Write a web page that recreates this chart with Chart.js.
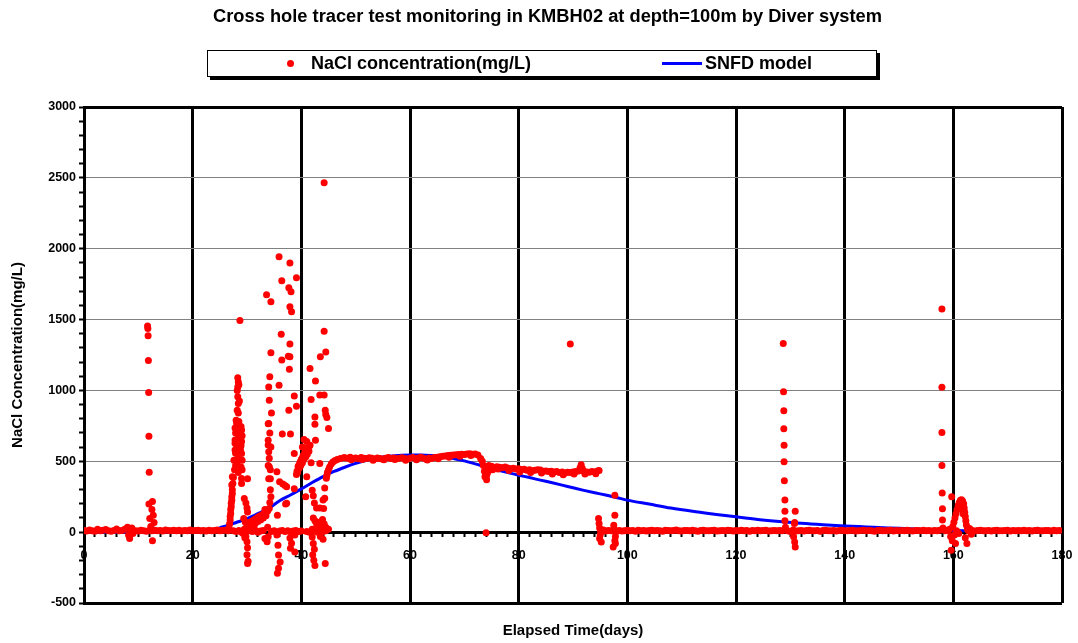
<!DOCTYPE html>
<html>
<head>
<meta charset="utf-8">
<title>KMBH02 tracer test</title>
<script src="https://cdn.jsdelivr.net/npm/chart.js"></script>
<style>
  body { margin: 0; background: #fff; }
  #wrap { position: relative; width: 1078px; height: 643px; }
  #title {
    position: absolute; left: 213px; top: 5px; white-space: nowrap;
    font: bold 18.3px "Liberation Sans", Arial, sans-serif; color: #000; line-height: 22px;
  }
  #legend {
    position: absolute; left: 207px; top: 50px; width: 668px; height: 25px;
    border: 1px solid #000; box-shadow: 3px 3px 0 #000; background: #fff;
    font: bold 18px "Liberation Sans", Arial, sans-serif; color: #000;
  }
  #legend span { position: absolute; }
  .dot { left: 79px; top: 9px; width: 7px; height: 7px; border-radius: 50%; background: #ff0000; }
  .lbl { top: 0; line-height: 25px; white-space: nowrap; }
  .bar { left: 454px; top: 11px; width: 40px; height: 3px; background: #0000ff; }
</style>
</head>
<body>
<div id="wrap">
  <canvas id="tracerChart" width="1078" height="643"></canvas>
  <div id="title">Cross hole tracer test monitoring in KMBH02 at depth=100m by Diver system</div>
  <div id="legend">
    <span class="dot"></span><span class="lbl" style="left:103px">NaCl concentration(mg/L)</span>
    <span class="bar"></span><span class="lbl" style="left:497px">SNFD model</span>
  </div>
</div>
<script>
// measured NaCl, [elapsed day, mg/L]
const naclBase1 = [[0,12],[0.5,8],[1,15],[1.5,10],[2,6],[2.5,20],[3,9],[3.5,14],[4,18],[4.5,10],[5,7],[5.5,12],[6,22],[6.5,9],[7,11],[7.5,20],[8,35],[8.2,-20],[8.4,-45],[8.6,15],[8.8,30],[9,-10],[9.5,10],[10,8],[10.5,13],[11,10],[11.5,6],[12,12],[12.5,9],[13,14],[13.5,10],[14,12],[14.5,8],[15,15],[15.5,11],[16,9],[16.5,13],[17,10],[17.5,14],[18,8],[18.5,12],[19,10],[19.5,15],[20,9],[20.5,12],[21,14],[21.5,10],[22,11],[22.5,8],[23,13],[23.5,10],[24,12],[24.5,15],[25,9],[25.5,12],[26,14],[26.5,10]];
const naclSpike12 = [[11.7,1455],[11.75,1437],[11.8,1385],[11.85,1211],[11.9,985],[11.95,677],[12,423],[11.95,198],[12.6,216],[12.1,97],[12.75,120],[12.9,68],[12.6,-61],[12.3,40],[12.5,160]];
const naclRise27 = [[26.7,30],[26.8,60],[26.9,85],[26.9,110],[27,132],[27,160],[27.1,180],[27.1,203],[27.2,225],[27.2,250],[27.3,273],[27.3,300],[27.2,332],[27.4,344],[27.3,390],[27.5,386],
  [27.5,10],[28,5],[28.5,12],[29,0],[29.5,8],[30,15],
  [27.8,734],[27.9,700],[27.8,650],[27.8,628],[27.8,579],[27.9,557],[27.6,508],[27.9,470],[27.7,440],[28,790],[28.1,767],[28.2,1000],[28.3,1090],[28.4,1060],[28.3,1025],[28.3,955],[28.4,908],[28.2,860],[28.7,1494],[28.5,1040],[28.6,925],[28.4,840],[28.9,745],[29,720],[29.1,680],[29,640],[28.9,610],[28.8,580],[29,555],[29.1,508],[28.9,460],[29.1,440],[28.2,700],[28.4,660],[28.1,610],[28.3,520],[28.6,700],[28.5,780],[28.2,480],[28.4,420],[29,379],[29,344],[30.1,376],
  [29.5,238],[29.8,205],[30,170],[30.1,143],[29.4,97],[29.7,70],[30,50],[30.2,30],[29.5,20],[29.3,-10],[29.8,-33],[30,-68],[30.1,-110],[30,-160],[30.2,-205],[30.1,-221],[29.6,-40],
  [30.2,61],[30.5,68],[30.8,75],[31.1,82],[31.4,90],[31.7,97],[32,105],[32.3,112],[32.6,118],[32.9,125],[33.2,135],[33.5,143],[33.8,150],[30.5,40],[31,50],[31.5,60],[32,75],[32.5,85],[33,100],[33.5,115],
  [30.5,10],[31,5],[31.5,15],[32,0],[32.5,8],[33,12]];
const naclCluster36 = [[33.6,1675],[34.4,1625],[34.4,1265],[34.2,1096],[34,1025],[34.1,931],[34.5,840],[33.9,764],[34,767],[33.9,649],[33.9,615],[34,567],[34.1,522],[34.1,461],[33.9,470],[34.3,440],[34,377],[34.3,377],[34.1,167],[33.3,160],[33.8,35],[33.9,-33],[33.7,-68],[33.3,-45],[34.2,700],[34.4,600],[34.3,300],[34.4,250],[34.2,210],
  [35.9,1943],[36.4,1774],[36.3,1397],[36.4,1214],[35.9,1037],[36.5,692],[36,355],[36.6,340],[37,330],[37.3,320],[37.1,198],[35.6,120],[35.5,426],[35.5,-21],[35.7,-92],[35.8,-162],[36.1,-210],[35.8,-254],[35.6,-290],
  [37.9,1900],[39.1,1795],[37.7,1724],[38.1,1696],[37.9,1590],[38.2,1555],[37.9,1327],[37.6,1242],[37.9,1237],[37.8,1150],[38.7,960],[39.1,889],[37.7,861],[38,692],[38.7,555],[38.7,306],[37.3,203],[38.8,-21],[37.9,-42],[38.2,-78],[38,-113],[38.8,-141],
  [34.5,5],[35,10],[35.5,0],[36,8],[36.5,12],[37,5],[37.5,10],[38,3],[38.5,8],[39,12],[39.5,5],[40,8]];
const naclCluster42 = [[39.1,407],[39.2,430],[39.4,461],[39.5,470],[39.7,485],[39.8,496],[40,510],[40.1,520],[40.3,535],[40.4,543],[40.6,555],[40.7,567],[40.9,575],[41,579],[41.2,595],[41.3,602],[41.5,610],[41.6,614],[39.3,420],[39.6,450],[39.9,470],[40.2,490],[40.5,515],[40.8,530],[41.1,550],[41.4,570],[40.2,600],[40.5,654],[41,640],
  [44.2,2465],[44.2,1418],[44.5,1272],[43.5,1237],[41.6,1155],[42.6,1066],[41.8,936],[43.4,967],[44.2,967],[42.5,813],[42.5,762],[44.4,861],[44.5,830],[44.7,809],[45,732],[42.6,649],[41.8,489],[43.4,485],[41,390],[40.8,250],[42,296],[42.2,256],[42.4,205],[44.3,311],[44.3,240],[44,226],[44.1,167],[42.8,170],[43.4,170],
  [42.2,100],[42.5,80],[42.8,60],[43,50],[43.3,70],[43.6,40],[43.9,90],[44.2,60],[44.5,35],[42,20],[42.5,10],[43,0],[43.5,15],[44,5],[44.5,10],[45,20],[41,5],[41.5,0],
  [42,-35],[42.2,-80],[42.4,-120],[42.1,-160],[42.3,-198],[42.5,-235],[44.4,-221],[43.5,-30],[44,-50]];
const naclPlateau = [[44.6,380],[44.7,400],[44.8,420],[45,440],[45.2,460],[45.5,480],[45.8,495],[46.2,505],[46.6,512],[47.2,520],[47.8,525],
  [48,525],[48.5,522],[49,528],[49.5,520],[50,524],[50.5,518],[51,526],[51.5,521],[52,519],[52.5,525],[53,522],[53.5,517],[54,524],[54.5,520],[55,515],[55.5,522],[56,527],[56.5,519],[57,523],[57.5,518],[58,521],[58.5,525],[59,520],[59.5,517],[60,522],[60.5,526],[61,519],[61.5,523],[62,528],[62.5,521],[63,515],[63.5,524],[64,520],[64.5,526],[65,529],[65.5,532],[66,535],[66.5,538],[67,540],[67.5,542],[68,545],[68.5,547],[69,548],[69.5,550],[70,548],[70.5,551],[71,553],[71.5,550],[72,552],[72.5,545],[73,520],[73.3,500],[73.5,470],[73.7,430],[73.8,390],[73.9,410],
  [49.2,510],[51.2,512],[53.2,508],[55.2,510],[57.2,512],[59.2,508],[61.2,511],[63.2,509],[65.2,518],[67.2,528],[69.2,536],[71.2,540],[74,-5]];
const naclDecline = [[74.1,370],[74.1,400],[74.2,430],[74.2,460],[74.5,470],[75,465],[75.5,455],[76,462],[76.5,458],[77,455],[77.5,460],[78,452],[78.5,448],[79,450],[79.5,445],[80,447],[80.5,440],[81,443],[81.5,436],[82,440],[82.5,434],[83,437],[83.5,440],[84,438],[84.5,430],[85,432],[85.5,428],[86,430],[86.5,425],[87,428],[87.5,420],[88,425],[88.5,418],[89,423],[89.5,420],[90,425],[90.5,428],[91,432],[91.3,455],[91.5,475],[91.7,450],[92,430],[92.5,425],[93,422],[93.5,428],[94,425],[94.5,432],[94.8,435],
  [74.3,420],[75.2,440],[76.2,445],[78.2,435],[80.2,425],[82.2,420],[84.2,418],[86.2,410],[88.2,405],[90.2,410],[92.2,410],[94.2,412],[89.5,1327]];
const naclDrop96 = [[94.7,97],[94.8,61],[94.9,30],[95,-20],[94.9,-45],[95.1,10],[95.2,-70],[95.3,5],[95.6,15],[96,8],[96.5,12],[97,10],[97.5,49],[97.6,20],[97.8,-30],[97.7,-60],[97.4,-104],[97.8,-80],[97.7,261],[97.7,120],[98,5]];
const naclBase2 = [[98.5,12],[99,8],[99.5,10],[100,14],[100.5,9],[101,11],[101.5,7],[102,13],[102.5,10],[103,12],[103.5,8],[104,11],[104.5,14],[105,9],[105.5,12],[106,10],[106.5,7],[107,13],[107.5,11],[108,9],[108.5,12],[109,15],[109.5,10],[110,8],[110.5,12],[111,11],[111.5,9],[112,13],[112.5,10],[113,7],[113.5,12],[114,14],[114.5,10],[115,9],[115.5,11],[116,13],[116.5,8],[117,10],[117.5,12],[118,9],[118.5,14],[119,11],[119.5,8],[120,12],[120.5,10],[121,13],[121.5,9],[122,11],[122.5,7],[123,12],[123.5,10],[124,14],[124.5,9],[125,11],[125.5,13],[126,8],[126.5,10],[127,12],[127.5,9],[128,11],[128.5,10]];
const naclSpike129 = [[128.7,1332],[128.75,990],[128.8,856],[128.8,729],[128.85,614],[128.85,496],[128.9,362],[129,226],[129,148],[130.9,148],[129,80],[130.8,68],[130.75,61],[129.1,35],[130.6,-33],[130.8,-70],[130.9,-104],[129.5,10],[130,5],[130.5,15],[131,8]];
const naclBase3 = [[131.5,10],[132,12],[132.5,8],[133,11],[133.5,13],[134,9],[134.5,10],[135,12],[135.5,7],[136,11],[136.5,14],[137,9],[137.5,10],[138,12],[138.5,8],[139,11],[139.5,13],[140,10],[140.5,9],[141,12],[141.5,14],[142,8],[142.5,10],[143,11],[143.5,13],[144,9],[144.5,12],[145,10],[145.5,7],[146,11],[146.5,13],[147,10],[147.5,9],[148,12],[148.5,14],[149,8],[149.5,11],[150,10],[150.5,12],[151,9],[151.5,13],[152,10],[152.5,8],[153,11],[153.5,12],[154,9],[154.5,14],[155,10],[155.5,11],[156,8],[156.5,12],[157,10],[157.5,13],[158.5,9],[159,12]];
const naclSpike158 = [[157.9,1574],[157.9,1023],[157.9,703],[157.9,470],[157.95,277],[158,165],[158,85],[158.1,30]];
const naclBump161 = [[159.3,20],[159.5,-30],[159.6,-127],[159.7,249],[159.8,-60],[159.9,40],[160.1,70],[160.3,100],[160.5,130],[160.7,160],[160.9,190],[161.1,210],[161.3,225],[161.5,228],[161.7,220],[161.9,200],[162,170],[162.1,140],[162.2,110],[162.3,80],[162.4,50],[162.5,-80],[162.6,20],[160.2,-20],[160.6,10],[161,-10],[161.4,180],[161.6,160],[161.8,130],[162.2,-40],[160.4,-80]];
const naclBase4 = [[162.8,10],[163,25],[163.3,-15],[163.5,12],[164,8],[164.5,11],[165,13],[165.5,9],[166,10],[166.5,12],[167,8],[167.5,11],[168,14],[168.5,9],[169,10],[169.5,12],[170,13],[170.5,8],[171,11],[171.5,10],[172,12],[172.5,9],[173,14],[173.5,10],[174,11],[174.5,8],[175,12],[175.5,13],[176,9],[176.5,10],[177,12],[177.5,11],[178,8],[178.5,13],[179,10],[179.5,12]];

// SNFD model curve
const modelDays = [0,10,20,22,24,25,26,27,28,30,32,34,36,38,40,42,44,46,48,50,52,54,56,58,60,62,64,66,68,70,72,74,76,78,80,82,84,86,88,90,92,94,96,98,100,104,108,112,116,120,124,128,132,136,140,144,148,152,156,160,164,168,172,176,180];
const modelMg = [0,0,1,3,12,30,42,55,68,95,130,168,222,262,305,350,392,428,458,485,507,524,535,541,545,545,541,533,520,503,482,460,440,420,402,385,367,350,332,313,295,278,262,245,226,198,170,147,127,108,90,75,62,52,44,37,30,24,17,12,8,6,4,3,2];

const xTicks = { min: 0, max: 180, step: 2, major: 20 };
const yTicks = { min: -500, max: 3000, step: 100, major: 500 };

const fontFamily = '"Liberation Sans", Arial, sans-serif';

const naclPoints = [].concat(naclBase1, naclSpike12, naclRise27, naclCluster36, naclCluster42,
  naclPlateau, naclDecline, naclDrop96, naclBase2, naclSpike129, naclBase3, naclSpike158,
  naclBump161, naclBase4).map(p => ({ x: p[0], y: p[1] }));
const modelPoints = modelDays.map((d, i) => ({ x: d, y: modelMg[i] }));

new Chart(document.getElementById('tracerChart'), {
  type: 'scatter',
  data: {
    datasets: [
      {
        label: 'NaCl concentration(mg/L)',
        data: naclPoints,
        backgroundColor: '#ff0000',
        borderWidth: 0,
        pointRadius: 3.5,
        order: 0
      },
      {
        label: 'SNFD model',
        type: 'line',
        data: modelPoints,
        borderColor: '#0000ff',
        borderWidth: 3,
        pointRadius: 0,
        cubicInterpolationMode: 'monotone',
        fill: false,
        order: 1
      }
    ]
  },
  options: {
    responsive: false,
    animation: false,
    layout: { padding: { left: 0, right: 16, top: 107, bottom: 0 } },
    plugins: {
      legend: { display: false },
      tooltip: { enabled: false }
    },
    scales: {
      x: {
        type: 'linear',
        position: { y: 0 },
        min: xTicks.min,
        max: xTicks.max,
        afterBuildTicks: s => {
          s.ticks = [];
          for (let v = xTicks.min; v <= xTicks.max; v += xTicks.step) s.ticks.push({ value: v });
        },
        afterFit: s => { s.paddingLeft = 0; s.paddingRight = 0; },
        ticks: {
          autoSkip: false,
          maxRotation: 0,
          padding: 12,
          color: '#000',
          font: { family: fontFamily, size: 12.5, weight: 'bold' },
          callback: v => (v % xTicks.major === 0 ? v : '')
        },
        grid: {
          color: c => (c.tick && c.tick.value % xTicks.major === 0 ? '#000' : 'rgba(0,0,0,0)'),
          lineWidth: c => (c.tick && c.tick.value % xTicks.major === 0 ? 3 : 1),
          tickColor: '#000',
          tickWidth: 2,
          tickLength: 4
        },
        border: { color: '#000', width: 2 }
      },
      xTitle: {
        type: 'linear',
        position: 'bottom',
        min: xTicks.min,
        max: xTicks.max,
        ticks: { display: false },
        grid: { display: false, drawTicks: false },
        border: { display: false },
        title: {
          display: true,
          text: 'Elapsed Time(days)',
          color: '#000',
          font: { family: fontFamily, size: 15, weight: 'bold' },
          padding: { top: 0, bottom: 3 }
        },
        afterFit: s => { s.height = 40; s.paddingLeft = 0; s.paddingRight = 0; }
      },
      y: {
        type: 'linear',
        min: yTicks.min,
        max: yTicks.max,
        afterBuildTicks: s => {
          s.ticks = [];
          for (let v = yTicks.min; v <= yTicks.max; v += yTicks.step) s.ticks.push({ value: v });
        },
        ticks: {
          autoSkip: false,
          padding: 3,
          color: '#000',
          font: { family: fontFamily, size: 12.5, weight: 'bold' },
          callback: v => (v % yTicks.major === 0 ? v : '')
        },
        grid: {
          color: c => {
            if (!c.tick) return 'rgba(0,0,0,0)';
            const v = c.tick.value;
            if (v === yTicks.max || v === yTicks.min || v === 0) return '#000';
            return v % yTicks.major === 0 ? '#808080' : 'rgba(0,0,0,0)';
          },
          lineWidth: c => {
            if (!c.tick) return 1;
            const v = c.tick.value;
            return (v === yTicks.max || v === yTicks.min || v === 0) ? 3 : 1;
          },
          tickColor: '#000',
          tickWidth: 2,
          tickLength: 5
        },
        border: { color: '#000', width: 3 },
        title: {
          display: true,
          text: 'NaCl Concentration(mg/L)',
          color: '#000',
          font: { family: fontFamily, size: 15, weight: 'bold' },
          padding: { top: 9, bottom: 0 }
        },
        afterFit: s => { s.width = 84; }
      }
    }
  }
});
</script>
</body>
</html>
